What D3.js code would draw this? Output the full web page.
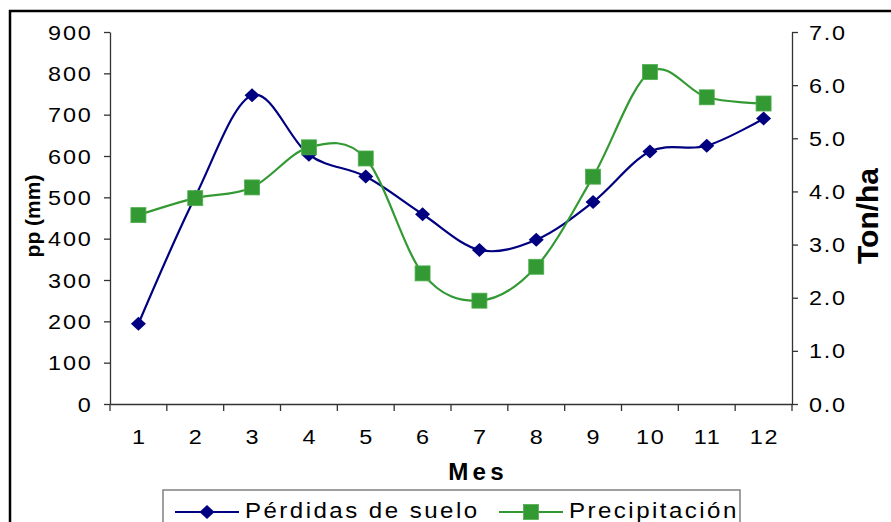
<!DOCTYPE html>
<html><head><meta charset="utf-8">
<script src="https://cdn.jsdelivr.net/npm/d3@7/dist/d3.min.js"></script>
<style>body{margin:0;background:#fff}svg{display:block}text{font-family:"Liberation Sans",Arial,sans-serif}</style>
</head><body>
<svg id="c" width="891" height="522"></svg>
<script>
const months = ["1","2","3","4","5","6","7","8","9","10","11","12"];
const perdidas = [1.51, 3.9, 5.81, 4.69, 4.28, 3.57, 2.90, 3.09, 3.80, 4.75, 4.86, 5.37]; // Ton/ha
const precipitacion = [457, 498, 524, 621, 594, 316, 250, 332, 550, 803, 742, 727]; // mm
const leftTicks = [0,100,200,300,400,500,600,700,800,900];
const rightTicks = [0,1,2,3,4,5,6,7];

const svg = d3.select("#c");
const L = 110, R = 792, T = 32, B = 404;
const x = d3.scaleBand().domain(months).range([L, R]);
const cx = d => x(d) + x.bandwidth()/2;
const yL = d3.scaleLinear().domain([0,900]).range([B,T]);
const yR = d3.scaleLinear().domain([0,7]).range([B,T]);
const SX = 1.2;

svg.append("rect").attr("x",10).attr("y",11).attr("width",900).attr("height",600)
  .attr("fill","#fff").attr("stroke","#000").attr("stroke-width",2.5);

const axColor = "#333";
function styleAxis(g){
  g.selectAll("path,line").attr("stroke",axColor).attr("stroke-width",1.3);
  g.selectAll("text").attr("font-size",19.5).attr("fill","#000").style("letter-spacing","1.5px")
   .attr("font-family","Liberation Sans, Arial, sans-serif");
}
function stretch(sel, s, shift){
  sel.each(function(){
    const t = d3.select(this);
    const tx = (+t.attr("x") || 0) + shift, ty = +t.attr("y") || 0;
    t.attr("x",0).attr("y",0).attr("transform",`translate(${tx},${ty}) scale(${s},1)`);
  });
}
const gl = svg.append("g").attr("transform",`translate(${L},0)`)
  .call(d3.axisLeft(yL).tickValues(leftTicks).tickSize(6).tickSizeOuter(0).tickPadding(13));
styleAxis(gl);
gl.selectAll("text").attr("dy","0.36em");
stretch(gl.selectAll("text"), SX, 1.5);
const gr = svg.append("g").attr("transform",`translate(${R},0)`)
  .call(d3.axisRight(yR).tickValues(rightTicks).tickFormat(d3.format(".1f")).tickSize(6).tickSizeOuter(0).tickPadding(11));
styleAxis(gr);
gr.selectAll("text").attr("dy","0.36em");
stretch(gr.selectAll("text"), SX, 0);
const gb = svg.append("g").attr("transform",`translate(0,${B})`)
  .call(d3.axisBottom(x).tickSize(0).tickSizeOuter(0).tickPadding(26));
styleAxis(gb);
stretch(gb.selectAll("text"), SX, 0.9);
const bounds = months.map(d => x(d)).concat([R]);
gb.selectAll(".bt").data(bounds).enter().append("line")
  .attr("x1",d=>d).attr("x2",d=>d).attr("y1",0).attr("y2",7)
  .attr("stroke",axColor).attr("stroke-width",1.3);

// titles
svg.append("text").attr("transform","translate(40,216) rotate(-90)").attr("text-anchor","middle")
  .attr("font-size",21).attr("font-weight","bold").text("pp (mm)");
svg.append("text").attr("transform","translate(878,216) rotate(-90)").attr("text-anchor","middle")
  .attr("font-size",30).attr("font-weight","bold").text("Ton/ha");
svg.append("text").attr("transform","translate(478,480) scale(1.05,1)").attr("text-anchor","middle")
  .attr("font-size",23).attr("font-weight","bold").style("letter-spacing","4px").text("Mes");

const blue = "#000080", green = "#339933";
const curve = d3.curveCatmullRom.alpha(0);
const diamond = (g, px, py) => g.append("path")
  .attr("d",`M${px},${py-7}L${px+7.5},${py}L${px},${py+7}L${px-7.5},${py}Z`).attr("fill",blue);
const square = (g, px, py) => g.append("rect").attr("x",px-7.5).attr("y",py-7.5)
  .attr("width",15).attr("height",15).attr("fill",green).attr("stroke","#4fae4f").attr("stroke-width",0.8);

const gB = svg.append("g");
gB.append("path").datum(months).attr("fill","none").attr("stroke",blue).attr("stroke-width",2.2)
  .attr("d", d3.line().x(d=>cx(d)).y((d,i)=>yR(perdidas[i])).curve(curve));
months.forEach((d,i)=>diamond(gB, cx(d), yR(perdidas[i])));
const gG = svg.append("g");
gG.append("path").datum(months).attr("fill","none").attr("stroke",green).attr("stroke-width",2.2)
  .attr("d", d3.line().x(d=>cx(d)).y((d,i)=>yL(precipitacion[i])).curve(curve));
months.forEach((d,i)=>square(gG, cx(d), yL(precipitacion[i])));

// legend
const lg = svg.append("g");
lg.append("rect").attr("x",163).attr("y",490).attr("width",577).attr("height",60)
  .attr("fill","#fff").attr("stroke","#808080").attr("stroke-width",1.5);
lg.append("line").attr("x1",175).attr("x2",239).attr("y1",512).attr("y2",512).attr("stroke",blue).attr("stroke-width",2.2);
diamond(lg, 207, 512);
lg.append("text").attr("transform","translate(245,518) scale(1.12,1)").attr("font-size",21.5).style("letter-spacing","2.2px").text("Pérdidas de suelo");
lg.append("line").attr("x1",499).attr("x2",563).attr("y1",512).attr("y2",512).attr("stroke",green).attr("stroke-width",2.2);
square(lg, 531, 512);
lg.append("text").attr("transform","translate(569,518) scale(1.12,1)").attr("font-size",21.5).style("letter-spacing","2.2px").text("Precipitación");
</script>
</body></html>
